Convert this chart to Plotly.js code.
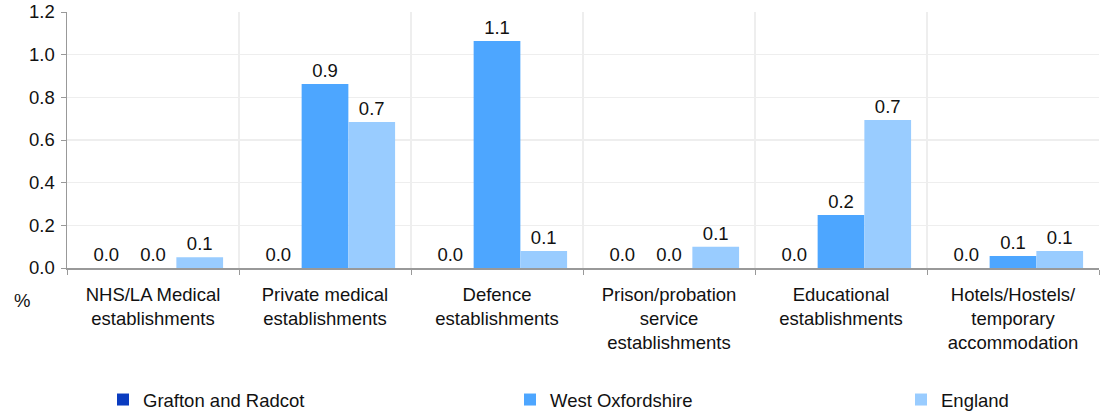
<!DOCTYPE html>
<html>
<head>
<meta charset="utf-8">
<script src="https://cdn.plot.ly/plotly-3.0.1.min.js"></script>
<style>html,body{margin:0;padding:0;background:#fff;}#chart{width:1106px;height:412px;}</style>
</head>
<body>
<div id="chart"></div>
<script>
const categories = [
  "NHS/LA Medical<br>establishments",
  "Private medical<br>establishments",
  "Defence<br>establishments",
  "Prison/probation<br>service<br>establishments",
  "Educational<br>establishments",
  "Hotels/Hostels/<br>temporary<br>accommodation"
];
const seriesNames = ["Grafton and Radcot", "West Oxfordshire", "England"];
const grafton = [0, 0, 0, 0, 0, 0];
const westOxon = [0, 0.862, 1.064, 0, 0.248, 0.056];
const england = [0.05, 0.684, 0.08, 0.1, 0.694, 0.08];
const colors = ["#0a3cc0", "#4da6ff", "#99ccff"];
const allSeries = [grafton, westOxon, england];
const legendIds = ["legend", "legend2", "legend3"];
const FS = 18.5;

const traces = allSeries.map((vals, i) => ({
  type: "bar",
  name: seriesNames[i],
  legend: legendIds[i],
  x: categories,
  y: vals,
  marker: {color: colors[i]},
  text: vals.map(v => v.toFixed(1)),
  textposition: "outside",
  cliponaxis: false,
  textfont: {family: "Liberation Sans, Arial, sans-serif", size: FS, color: "#111"},
  hoverinfo: "none"
}));

function leg(xpx) {
  return {
    orientation: "h", xref: "container", yref: "container",
    x: xpx / 1106, xanchor: "left", y: 12 / 412, yanchor: "middle",
    font: {size: FS, color: "#111"}, bgcolor: "rgba(0,0,0,0)"
  };
}

const layout = {
  width: 1106, height: 412,
  margin: {l: 67, r: 7, t: 12, b: 144},
  paper_bgcolor: "#fff", plot_bgcolor: "#fff",
  barmode: "group",
  bargap: 0.185,
  bargroupgap: 0,
  font: {family: "Liberation Sans, Arial, sans-serif", size: FS, color: "#111"},
  showlegend: true,
  legend: leg(103),
  legend2: leg(510),
  legend3: leg(901),
  xaxis: {
    type: "category",
    tickson: "boundaries",
    ticks: "outside", ticklen: 5, tickcolor: "#999",
    ticklabelstandoff: 9,
    showgrid: true, gridcolor: "#eeeeee", gridwidth: 1.5,
    showline: true, linecolor: "#999", linewidth: 1.5,
    tickfont: {size: FS, color: "#111"},
    fixedrange: true
  },
  yaxis: {
    range: [0, 1.2], dtick: 0.2, tickformat: ".1f",
    ticks: "outside", ticklen: 5, tickcolor: "#999",
    ticklabelstandoff: 2,
    showgrid: true, gridcolor: "#eeeeee", gridwidth: 1.5,
    showline: true, linecolor: "#999", linewidth: 1.5,
    zeroline: false,
    tickfont: {size: FS, color: "#111"},
    fixedrange: true
  },
  annotations: [{
    text: "%", xref: "paper", yref: "paper", x: -0.044, y: -0.125,
    xanchor: "center", yanchor: "middle", showarrow: false,
    font: {size: FS, color: "#111"}
  }]
};

Plotly.newPlot("chart", traces, layout, {staticPlot: true, displayModeBar: false});
</script>
</body>
</html>
